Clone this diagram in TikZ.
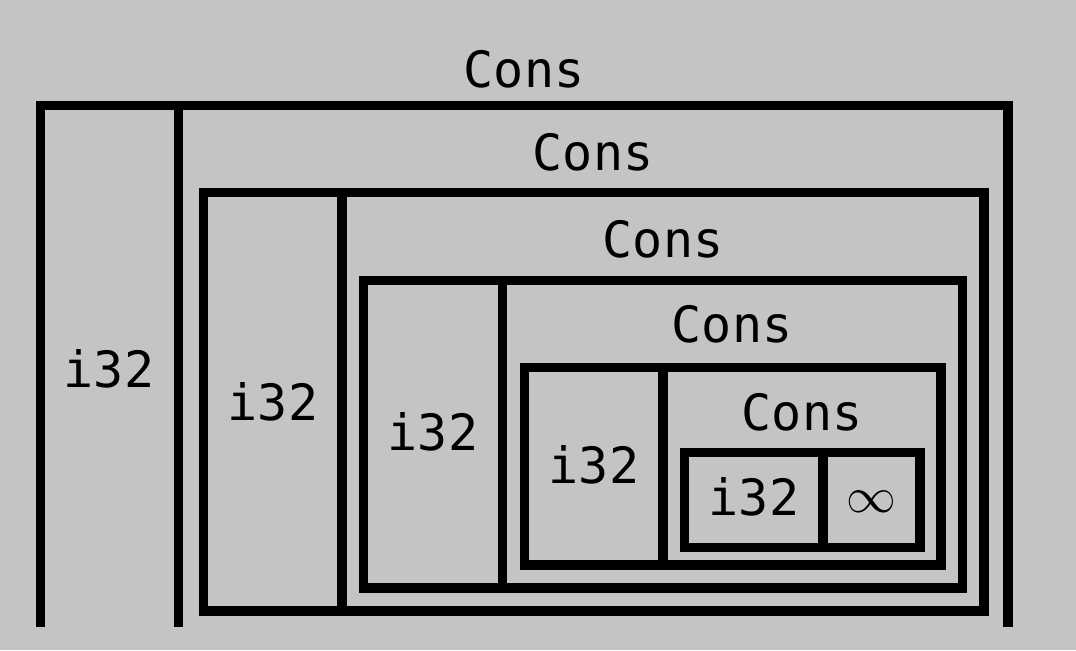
\documentclass[tikz,border=0pt]{standalone}
\usepackage{fontspec}
\setmonofont{DejaVu Sans Mono}
\definecolor{bg}{RGB}{196,196,196}
\begin{document}
\begin{tikzpicture}[x=0.5pt,y=-0.5pt,
        box/.style={draw=black,line width=4.75pt},
        lbl/.style={anchor=base,inner sep=0pt,font=\fontsize{25}{30}\selectfont\ttfamily}]
            \fill[bg] (0,0) rectangle (1076,650);
            \useasboundingbox (0,0) rectangle (1076,650);
            % outer cell, open at the bottom
            \draw[box] (40.5,627) -- (40.5,105.5) -- (1008,105.5) -- (1008,627);
            \draw[box] (178.5,105.5) -- (178.5,627);
            % nested cells
            \draw[box] (203.5,192.5) rectangle (984,611);
            \draw[box] (342,192.5) -- (342,611);
            \draw[box] (363.5,280.5) rectangle (962.5,588);
            \draw[box] (502.5,280.5) -- (502.5,588);
            \draw[box] (524.5,367.5) rectangle (941,565);
            \draw[box] (663,367.5) -- (663,565);
            \draw[box] (684.5,452.5) rectangle (920,547.5);
            \draw[box] (823,452.5) -- (823,547.5);
            % labels
            \node[lbl] (c1) at (524,87) {Cons};
            \node[lbl] (c2) at (593,170) {Cons};
            \node[lbl] (c3) at (663,257) {Cons};
            \node[lbl] (c4) at (732,342) {Cons};
            \node[lbl] (c5) at (802,430) {Cons};
            \node[lbl] (i1) at (109,387) {i32};
            \node[lbl] (i2) at (273,420) {i32};
            \node[lbl] (i3) at (433,450) {i32};
            \node[lbl] (i4) at (594,483) {i32};
            \node[lbl] (i5) at (754,515) {i32};
            \node[lbl,font=\fontsize{23}{28}\selectfont] (inf) at (871,512) {$\infty$};
        \end{tikzpicture}
\end{document}
